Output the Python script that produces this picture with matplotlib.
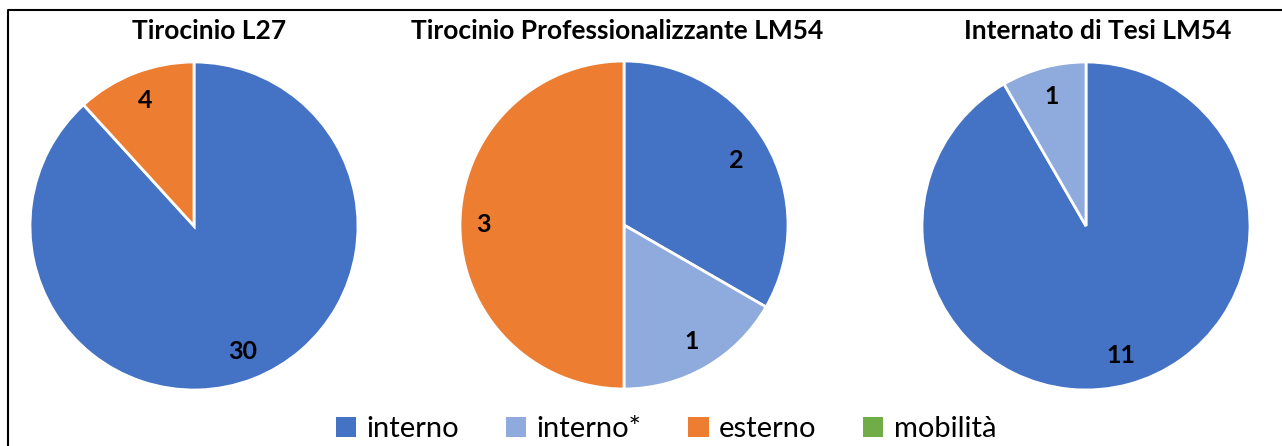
import matplotlib
matplotlib.use('Agg')
import matplotlib.pyplot as plt
import numpy as np
from matplotlib.patches import Patch
from matplotlib.lines import Line2D

plt.rcParams['font.family'] = ['Lato', 'DejaVu Sans']

# ===== DATA =====
categories = ['interno', 'interno*', 'esterno', 'mobilità']
titles = ['Tirocinio L27', 'Tirocinio Professionalizzante LM54', 'Internato di Tesi LM54']
l27 = [30, 0, 4, 0]
lm54_prof = [2, 1, 3, 0]
lm54_tesi = [11, 1, 0, 0]
series = [l27, lm54_prof, lm54_tesi]

colors = ['#4472C4', '#8FAADC', '#ED7D31', '#70AD47']

# ===== LAYOUT (pixels) =====
W, H = 1282, 446
pie_centers = [(194, 226), (624, 225), (1086, 226)]
pie_radius = 164
title_x = [209, 617, 1098]
title_y = 31
# radial position of the number labels, per non-empty slice
label_dist = [[0.82, 0.82], [0.79, 0.82, 0.86], [0.82, 0.82]]

fig = plt.figure(figsize=(W / 100, H / 100), dpi=100)

for vals, title, (cx, cy), tx, dists in zip(series, titles, pie_centers, title_x, label_dist):
    ax = fig.add_axes([(cx - pie_radius) / W, (H - cy - pie_radius) / H,
                       2 * pie_radius / W, 2 * pie_radius / H])
    # drop zero slices, keep colours aligned
    v = [x for x in vals if x > 0]
    c = [col for x, col in zip(vals, colors) if x > 0]
    wedges, _ = ax.pie(v, colors=c, startangle=90, counterclock=False,
                       wedgeprops=dict(edgecolor='white', linewidth=2))
    for w, val, d in zip(wedges, v, dists):
        ang = np.deg2rad((w.theta1 + w.theta2) / 2)
        ax.text(d * np.cos(ang), d * np.sin(ang), str(val), ha='center', va='center',
                fontsize=18, fontweight='bold', color='black')
    ax.set_xlim(-1, 1)
    ax.set_ylim(-1, 1)
    ax.set_aspect('equal')
    fig.text(tx / W, 1 - title_y / H, title, ha='center', va='center',
             fontsize=19, fontweight='bold', color='black')

# legend
handles = [Patch(facecolor=col, edgecolor='none') for col in colors]
fig.legend(handles, categories, loc='center', bbox_to_anchor=(666 / W, 1 - 429 / H),
           ncol=4, frameon=False, fontsize=21, handlelength=0.7, handleheight=0.7,
           handletextpad=0.35, columnspacing=1.6, borderaxespad=0)

# outer frame (top + left edges visible)
fig.add_artist(Line2D([8 / W, 8 / W, 1], [0, 1 - 10 / H, 1 - 10 / H],
                      transform=fig.transFigure, color='black', linewidth=1.5))

fig.savefig('out.png', dpi=100)
